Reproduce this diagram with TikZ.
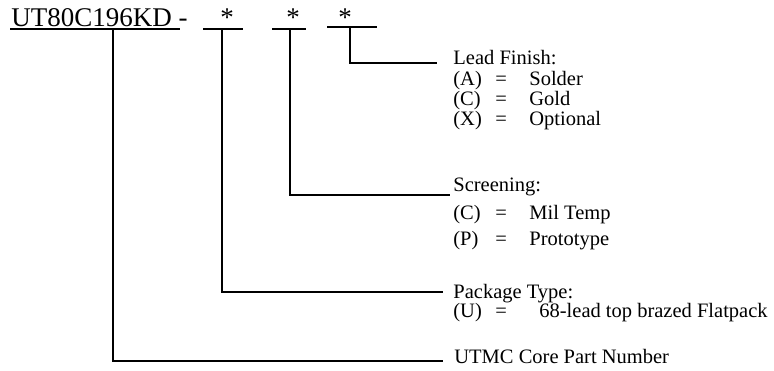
\documentclass[tikz,border=0pt]{standalone}
\usepackage{fontspec}
\setmainfont{Liberation Serif}

% one option line: code, equals sign, meaning
\newcommand{\optline}[3][34pt]{\makebox[42pt][l]{#2}\makebox[#1][l]{=}#3}

\begin{document}
\begin{tikzpicture}[x=1pt, y=-1pt, line width=2.8pt,
  every node/.style={inner sep=0pt, anchor=base west},
  big/.style={font=\fontsize{27}{30}\selectfont},
  txt/.style={font=\fontsize{20.5}{22}\selectfont}]

  \useasboundingbox (0,0) rectangle (774,371);

  % part number and option fields
  \node[big] (part) at (10,27) {UT80C196KD -};
  \node[big, anchor=base] (star1) at (227,27) {*};
  \node[big, anchor=base] (star2) at (293,27) {*};
  \node[big, anchor=base] (star3) at (345,27) {*};

  % bars under them
  \draw ([yshift=-2pt]part.base west) -- ++(170,0);
  \draw ([xshift=-24pt, yshift=-2pt]star1.base) -- ++(40,0);
  \draw ([xshift=-21pt, yshift=-2pt]star2.base) -- ++(34,0);
  \draw ([xshift=-18pt]star3.base) -- ++(50,0);

  \coordinate (tap0) at (113,29);
  \coordinate (tap1) at (222,29);
  \coordinate (tap2) at (290,29);
  \coordinate (tap3) at (350,27);

  % lead finish
  \node[txt] (lead) at (452,65) {Lead Finish:};
  \node[txt] (leadA) at (452,86) {\optline{(A)}{Solder}};
  \node[txt] (leadC) at (452,106) {\optline{(C)}{Gold}};
  \node[txt] (leadX) at (452,126) {\optline{(X)}{Optional}};

  % screening
  \node[txt] (scr) at (452,192) {Screening:};
  \node[txt] (scrC) at (452,220) {\optline{(C)}{Mil Temp}};
  \node[txt] (scrP) at (452,246) {\optline{(P)}{Prototype}};

  % package
  \node[txt] (pkg) at (452,299) {Package Type:};
  \node[txt] (pkgU) at (452,318) {\optline[44pt]{(U)}{68-lead top brazed Flatpack}};

  \node[txt] (core) at (453,363) {UTMC Core Part Number};

  % leader lines
  \draw (tap3) |- ([xshift=-15pt, yshift=2pt]lead.base west);
  \draw (tap2) |- ([xshift=-2pt, yshift=-3pt]scr.base west);
  \draw (tap1) |- ([xshift=-9pt, yshift=7pt]pkg.base west);
  \draw (tap0) |- ([xshift=-10pt, yshift=2pt]core.base west);

\end{tikzpicture}
\end{document}
